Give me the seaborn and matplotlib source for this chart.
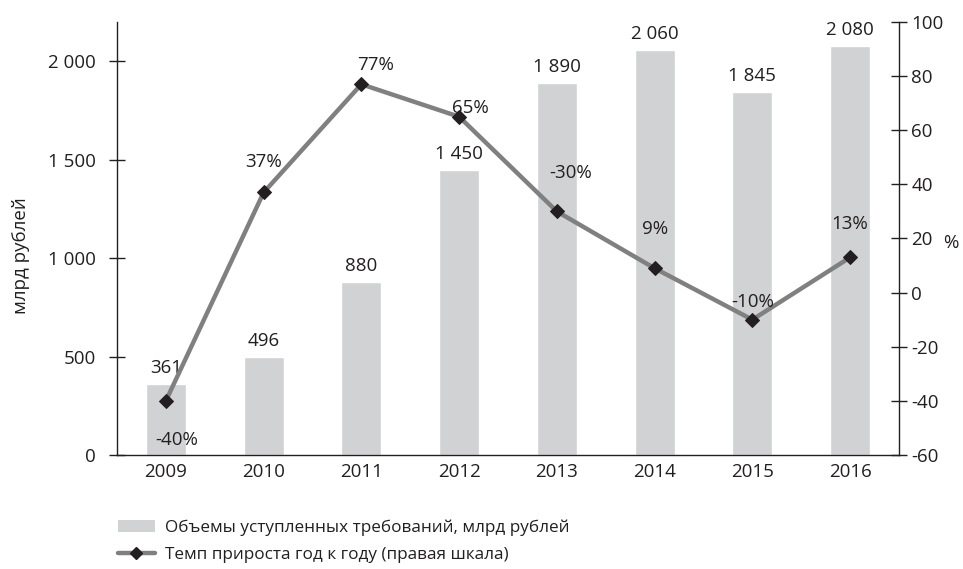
import matplotlib
matplotlib.use("Agg")
import matplotlib.pyplot as plt
import seaborn as sns
import pandas as pd
from matplotlib.lines import Line2D
from matplotlib.patches import Patch

years = ["2009", "2010", "2011", "2012", "2013", "2014", "2015", "2016"]
volumes = [361, 496, 880, 1450, 1890, 2060, 1845, 2080]
volume_labels = ["361", "496", "880", "1 450", "1 890", "2 060", "1 845", "2 080"]
growth = [-40, 37, 77, 65, 30, 9, -10, 13]
growth_labels = ["-40%", "37%", "77%", "65%", "-30%", "9%", "-10%", "13%"]
left_ticks = [0, 500, 1000, 1500, 2000]
left_tick_labels = ["0", "500", "1 000", "1 500", "2 000"]
right_ticks = [-60, -40, -20, 0, 20, 40, 60, 80, 100]
legend_labels = ["Объемы уступленных требований, млрд рублей",
                 "Темп прироста год к году (правая шкала)"]

sns.set_theme(style="white")
plt.rcParams['font.family'] = ['Open Sans', 'DejaVu Sans']

FS = 13.5
TXT = "#231f20"

df = pd.DataFrame({"year": years, "volume": volumes, "growth": growth})

fig = plt.figure(figsize=(9.63, 5.69), dpi=100)
ax = fig.add_axes([0.1215, 0.2004, 0.812, 0.7609])
bar_color = "#d1d2d4"
sns.barplot(data=df, x="year", y="volume", color=bar_color, width=0.41,
            saturation=1, ax=ax)
ax.set_xlim(-0.5, 7.5)
ax.set_ylim(0, 2200)
ax.set_yticks(left_ticks)
ax.set_yticklabels(left_tick_labels)
ax.set_xlabel("")
ax.set_ylabel("млрд рублей", fontsize=FS, color=TXT)
ax.yaxis.set_label_coords(-0.111, 0.46)
for s in ["top", "right"]:
    ax.spines[s].set_visible(False)
for s in ["left", "bottom"]:
    ax.spines[s].set_color(TXT)
    ax.spines[s].set_linewidth(1.0)
ax.tick_params(axis="both", direction="inout", length=12, width=1.0,
               color=TXT, labelsize=FS, labelcolor=TXT)
ax.tick_params(axis="y", pad=9)
ax.set_xticks([i - 0.5 for i in range(1, 8)], minor=False)
ax.set_xticks(range(8), minor=True)
ax.set_xticklabels([])
ax.set_xticklabels(years, minor=True)
ax.tick_params(axis="x", which="minor", length=0, labelsize=FS,
               labelcolor=TXT, pad=6)
ax.tick_params(axis="x", which="major", length=12)

for i, (v, lab) in enumerate(zip(volumes, volume_labels)):
    ax.annotate(lab, (i, v), xytext=(0, 5), textcoords="offset points",
                ha="center", va="bottom", fontsize=FS, color=TXT)

ax2 = ax.twinx()
ax2.set_ylim(-60, 100)
sns.lineplot(x=list(range(8)), y=growth, ax=ax2, color="#808080", linewidth=3.2,
             marker="D", markersize=7, markerfacecolor=TXT,
             markeredgecolor=TXT, zorder=3)
ax2.set_yticks(right_ticks)
ax2.set_yticklabels([str(t) for t in right_ticks])
for s in ["top", "left", "bottom"]:
    ax2.spines[s].set_visible(False)
ax2.spines["right"].set_color(TXT)
ax2.spines["right"].set_linewidth(1.0)
ax2.tick_params(axis="y", direction="inout", length=12, width=1.0,
                color=TXT, labelsize=FS, labelcolor=TXT, pad=3)
ax2.set_ylabel("%", rotation=0, fontsize=FS, color=TXT, ha="center", va="center")
ax2.yaxis.set_label_coords(1.066, 0.49)
ax2.set_xlim(-0.5, 7.5)

offsets = [(8, -28), (0, 22), (10, 14), (8, 6), (10, 28), (0, 28), (0, 13), (0, 24)]
for i, (g, lab) in enumerate(zip(growth, growth_labels)):
    dx, dy = offsets[i]
    ax2.annotate(lab, (i, g), xytext=(dx, dy), textcoords="offset points",
                 ha="center", va="center", fontsize=FS, color=TXT)

handles = [Patch(facecolor=bar_color, edgecolor="none"),
           Line2D([0], [0], color="#808080", linewidth=3.2, marker="D",
                  markersize=6, markerfacecolor=TXT, markeredgecolor=TXT)]
fig.legend(handles, legend_labels, loc="upper left", bbox_to_anchor=(0.115, 0.099),
           frameon=False, fontsize=12.3, handlelength=2.2, handleheight=0.7,
           labelspacing=0.65, handletextpad=0.6, labelcolor=TXT,
           borderaxespad=0)

fig.savefig("out.png", dpi=100)
